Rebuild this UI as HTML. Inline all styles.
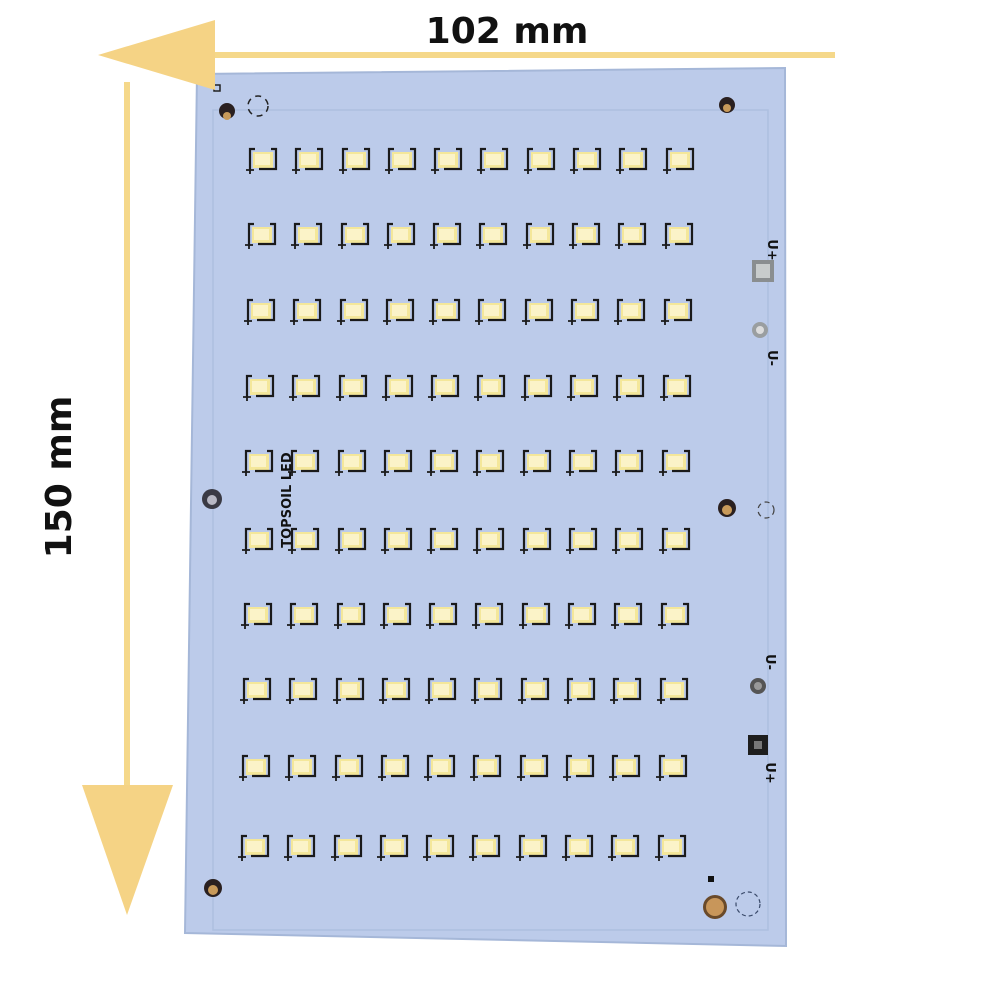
<!DOCTYPE html>
<html><head><meta charset="utf-8"><style>
html,body{margin:0;padding:0;background:#fff;}
svg{display:block}
</style></head><body>
<svg width="1000" height="1000" viewBox="0 0 1000 1000" xmlns="http://www.w3.org/2000/svg">
<defs>
<g id="L">
<rect x="-10" y="-8" width="20" height="16" fill="#f4e79a"/>
<rect x="-8" y="-6" width="15" height="11" fill="#fbf3c8"/>
<path d="M-8,-11 H-13 V9 M8,-11 H13 V9 H-4" fill="none" stroke="#1a1a1a" stroke-width="2.2"/>
<path d="M-17,10 H-9 M-13,6 V14" stroke="#1a1a1a" stroke-width="1.8"/>
</g>
<g id="R">
<use href="#L" x="0"/><use href="#L" x="46"/><use href="#L" x="93"/><use href="#L" x="139"/><use href="#L" x="185"/><use href="#L" x="231"/><use href="#L" x="278"/><use href="#L" x="324"/><use href="#L" x="370"/><use href="#L" x="417"/>
</g>
</defs>
<!-- board -->
<polygon points="197,74 785,68 786,946 185,933" fill="#bccbea"/>
<polygon points="197,74 785,68 786,946 185,933" fill="none" stroke="#a5b7d8" stroke-width="2"/>
<rect x="213" y="110" width="555" height="820" fill="none" stroke="#adbfe0" stroke-width="1.5"/>
<!-- LEDs -->
<use href="#R" transform="translate(263,160)"/>
<use href="#R" transform="translate(262,235)"/>
<use href="#R" transform="translate(261,311)"/>
<use href="#R" transform="translate(260,387)"/>
<use href="#R" transform="translate(259,462)"/>
<use href="#R" transform="translate(259,540)"/>
<use href="#R" transform="translate(258,615)"/>
<use href="#R" transform="translate(257,690)"/>
<use href="#R" transform="translate(256,767)"/>
<use href="#R" transform="translate(255,847)"/>
<!-- holes -->
<rect x="214" y="85" width="6" height="6" fill="none" stroke="#222" stroke-width="1.5"/>
<circle cx="227" cy="111" r="8" fill="#2a2020"/><circle cx="227" cy="116" r="4" fill="#c89a5a"/>
<circle cx="727" cy="105" r="8" fill="#2a2020"/><circle cx="727" cy="108" r="4" fill="#c89a5a"/>
<circle cx="727" cy="508" r="9" fill="#2a2020"/><circle cx="727" cy="510" r="5" fill="#c89a5a"/>
<circle cx="212" cy="499" r="10" fill="#3a3a44"/><circle cx="212" cy="500" r="5" fill="#b8b8c4"/>
<circle cx="213" cy="888" r="9" fill="#2a2020"/><circle cx="213" cy="890" r="5" fill="#c89a5a"/>
<circle cx="715" cy="907" r="12" fill="#6a4a2a"/><circle cx="715" cy="907" r="9" fill="#c8965a"/>
<circle cx="748" cy="904" r="12" fill="none" stroke="#3a4a6a" stroke-width="1.2" stroke-dasharray="4 3"/>
<circle cx="258" cy="106" r="10" fill="none" stroke="#222" stroke-width="1.5" stroke-dasharray="6 5"/>
<circle cx="766" cy="510" r="8" fill="none" stroke="#444" stroke-width="1.2" stroke-dasharray="5 4"/>
<rect x="708" y="876" width="6" height="6" fill="#111"/>
<!-- pads -->
<rect x="752" y="260" width="22" height="22" fill="#8a8e90"/><rect x="756" y="264" width="14" height="14" fill="#c8cccc"/>
<circle cx="760" cy="330" r="8" fill="#9a9ea0"/><circle cx="760" cy="330" r="4" fill="#dcdcdc"/>
<circle cx="758" cy="686" r="8" fill="#555"/><circle cx="758" cy="686" r="4" fill="#999"/>
<rect x="748" y="735" width="20" height="20" fill="#1e1e1e"/><rect x="754" y="741" width="8" height="8" fill="#777"/>
<g font-family="DejaVu Sans, sans-serif" font-weight="bold" font-size="13" fill="#111">
<text transform="translate(768,250) rotate(90)" text-anchor="middle">U+</text>
<text transform="translate(768,358) rotate(90)" text-anchor="middle">U-</text>
<text transform="translate(766,662) rotate(90)" text-anchor="middle">U-</text>
<text transform="translate(766,773) rotate(90)" text-anchor="middle">U+</text>
<text transform="translate(291,500) rotate(-90)" text-anchor="middle" font-size="13">TOPSOIL LED</text>
</g>
<!-- arrows -->
<rect x="205" y="52" width="630" height="6" fill="#f5d88a"/>
<polygon points="98,55 215,20 215,90" fill="#f5d385"/>
<rect x="124" y="82" width="6" height="710" fill="#f5d88a"/>
<polygon points="82,785 173,785 127,915" fill="#f5d385"/>
<text x="507" y="43" text-anchor="middle" font-family="DejaVu Sans, sans-serif" font-weight="bold" font-size="36" fill="#111">102 mm</text>
<text transform="translate(71,477) rotate(-90)" text-anchor="middle" font-family="DejaVu Sans, sans-serif" font-weight="bold" font-size="36" fill="#111">150 mm</text>
</svg>
</body></html>
